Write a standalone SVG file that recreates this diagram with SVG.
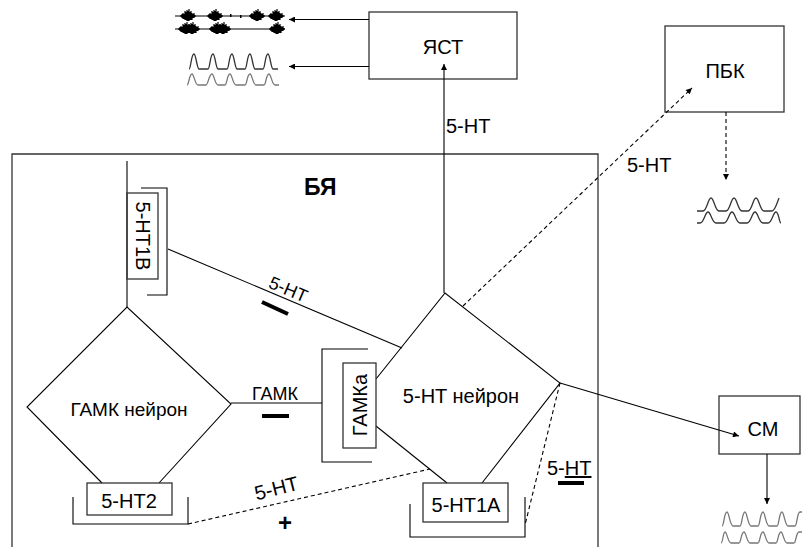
<svg xmlns="http://www.w3.org/2000/svg" xmlns:xlink="http://www.w3.org/1999/xlink" width="802" height="547" viewBox="0 0 802 547">
<defs>
<style>
.t{font-family:"Liberation Sans",Arial,sans-serif;font-size:20px;fill:#000}
.box{fill:none;stroke:#333;stroke-width:1.3}
.ln{fill:none;stroke:#000;stroke-width:1.1}
.ds{fill:none;stroke:#000;stroke-width:1.1;stroke-dasharray:4 3}
.bar{stroke:#000;stroke-width:4}
.wv{fill:none;stroke:#333;stroke-width:1.3}
.wg{fill:none;stroke:#777;stroke-width:1.3}
</style>
<marker id="arr" viewBox="0 0 10 10" refX="10" refY="5" markerWidth="8" markerHeight="6" markerUnits="userSpaceOnUse" orient="auto">
<path d="M0,0 L10,5 L0,10 z" fill="#000"/>
</marker>
<path id="blob" d="M-7,-1v2 M-6,-2v4 M-5,-3v6 M-4,-2v5 M-3,-5v9 M-2,-4v8 M-1,-6v11 M0,-5v10 M1,-7v12 M2,-4v8 M3,-5v9 M4,-3v7 M5,-2v4 M6,-3v5 M7,-1v2" stroke="#000" stroke-width="1.2" fill="none"/>
</defs>

<g id="BYa">
<polyline class="box" points="12,560 12,154 598,154 598,560"/>
<text class="t" x="304" y="195" style="font-weight:bold;font-size:23px">БЯ</text>
</g>

<g id="YaST">
<rect class="box" x="369" y="12" width="148" height="67"/>
<text class="t" x="443" y="54" text-anchor="middle">ЯСТ</text>
</g>

<g id="PBK">
<rect class="box" x="665" y="26" width="119" height="86"/>
<text class="t" x="725" y="78" text-anchor="middle">ПБК</text>
</g>

<g id="SM">
<rect class="box" x="719" y="396" width="81" height="58"/>
<text class="t" x="763" y="436" text-anchor="middle">СМ</text>
</g>

<g id="gaba-neuron">
<polyline class="ln" points="102,483 27,407 127,307 231,404 159,483"/>
<text class="t" x="129" y="416" text-anchor="middle" style="font-size:19px">ГАМК нейрон</text>
</g>

<g id="ht-neuron">
<polyline class="ln" points="376,379 445,293 560,383 482,483"/>
<line class="ln" x1="376" y1="426" x2="447" y2="483"/>
<text class="t" x="461" y="403" text-anchor="middle">5-HT нейрон</text>
</g>

<g id="r-5HT1B">
<line class="ln" x1="127" y1="161" x2="127" y2="307"/>
<rect class="box" x="127" y="193" width="31" height="86" fill="#fff"/>
<polyline class="ln" points="141,188 167,188 167,295 147,295"/>
<text class="t" transform="translate(143,236) rotate(90)" x="0" y="7" text-anchor="middle">5-HT1B</text>
</g>

<g id="r-GABAa">
<polyline class="ln" points="368,349 322,349 322,462 372,462"/>
<rect class="box" x="343" y="363" width="33" height="85"/>
<text class="t" transform="translate(360,405) rotate(-90)" x="0" y="7" text-anchor="middle">ГАМКа</text>
</g>

<g id="r-5HT2">
<rect class="box" x="87" y="483" width="85" height="32"/>
<polyline class="ln" points="73,497 73,524 188,524 188,497"/>
<text class="t" x="129" y="508" text-anchor="middle">5-HT2</text>
</g>

<g id="r-5HT1A">
<rect class="box" x="423" y="483" width="85" height="39"/>
<polyline class="ln" points="410,504 410,537 525,537 525,497"/>
<text class="t" x="466" y="512" text-anchor="middle">5-HT1A</text>
</g>

<g id="connectors">
<line class="ln" x1="369" y1="19.5" x2="289" y2="19.5" marker-end="url(#arr)"/>
<line class="ln" x1="369" y1="66.5" x2="289" y2="66.5" marker-end="url(#arr)"/>
<line class="ln" x1="444" y1="293" x2="444" y2="64" marker-end="url(#arr)"/>
<text class="t" x="446" y="133">5-HT</text>
<line class="ds" x1="463" y1="306" x2="692" y2="88" marker-end="url(#arr)"/>
<text class="t" x="627" y="172">5-HT</text>
<line class="ds" x1="726" y1="112" x2="726" y2="180" marker-end="url(#arr)"/>
<line class="ln" x1="560" y1="383" x2="739" y2="436" marker-end="url(#arr)"/>
<line class="ln" x1="767" y1="454" x2="767" y2="504" marker-end="url(#arr)"/>
<line class="ln" x1="168" y1="249" x2="402" y2="348"/>
<text class="t" transform="translate(286,295) rotate(23)" x="0" y="0" text-anchor="middle" style="font-size:18px">5-HT</text>
<line class="bar" x1="262" y1="302" x2="288" y2="314"/>
<line class="ln" x1="231" y1="403" x2="322" y2="403"/>
<text class="t" x="275" y="400" text-anchor="middle" style="font-size:18px">ГАМК</text>
<line class="bar" x1="262" y1="416" x2="289" y2="416"/>
<line class="ds" x1="188" y1="524" x2="430" y2="469"/>
<text class="t" transform="translate(278,495) rotate(-14)" x="0" y="0" text-anchor="middle">5-HT</text>
<text class="t" x="285" y="531" text-anchor="middle" style="font-weight:bold;font-size:24px">+</text>
<line class="ds" x1="560" y1="383" x2="525" y2="525"/>
<text class="t" x="547" y="475">5-<tspan style="text-decoration:underline">HT</tspan></text>
<line class="bar" x1="558" y1="483" x2="584" y2="483"/>
</g>

<g id="waves-YaST">
<line class="ln" x1="175" y1="16" x2="285" y2="16"/>
<use xlink:href="#blob" x="188" y="16"/>
<use xlink:href="#blob" x="215" y="16"/>
<use xlink:href="#blob" x="257" y="16"/>
<use xlink:href="#blob" x="276" y="16"/>
<rect x="230" y="14" width="1.5" height="3" fill="#000"/>
<rect x="240" y="15" width="1.5" height="3" fill="#000"/>
<line class="ln" x1="175" y1="29" x2="285" y2="29"/>
<use xlink:href="#blob" x="186" y="29"/>
<use xlink:href="#blob" x="192" y="29"/>
<use xlink:href="#blob" x="217" y="29"/>
<use xlink:href="#blob" x="223" y="29"/>
<use xlink:href="#blob" x="277" y="29"/>
<path class="wv" d="M189,69 C191,69 191,54 194,54 C196,54 197,69 199,69 L208,69 C210,69 210,54 213,54 C215,54 216,69 218,69 L227,69 C229,69 229,54 232,54 C234,54 235,69 237,69 L245,69 C247,69 247,54 250,54 C252,54 253,69 255,69 L263,69 C265,69 265,54 268,54 C270,54 271,69 273,69 L278,69"/>
<path class="wg" d="M187,85 C189,85 189,74 192,74 C194,74 195,85 198,85 L206,85 C208,85 209,74 212,74 C214,74 215,85 218,85 L225,85 C227,85 227,74 230,74 C232,74 233,85 236,85 L245,85 C247,85 247,74 250,74 C252,74 253,85 256,85 L264,85 C266,85 266,74 269,74 C271,74 272,85 275,85 L279,85"/>
</g>

<g id="waves-PBK">
<path class="wv" d="M697,211 L703,211 C707,211 708,198 711,198 C714,198 715,211 719,211 L726,211 C730,211 731,198 734,198 C737,198 738,211 742,211 L748,211 C752,211 753,198 756,198 C759,198 760,211 764,211 L772,211 C775,211 777,203 779,198"/>
<path class="wv" d="M697,223 L700,223 C704,223 705,212 708,212 C711,212 712,223 716,223 L724,223 C728,223 729,212 732,212 C735,212 736,223 740,223 L747,223 C751,223 752,212 755,212 C758,212 759,223 763,223 L768,223 C772,223 773,212 776,212 C779,212 779,223 781,223"/>
</g>

<g id="waves-SM">
<path class="wg" d="M722,526 C724,526 724,512 727,512 C729,512 730,526 733,526 L740,526 C742,526 742,512 745,512 C747,512 748,526 751,526 L758,526 C760,526 760,512 763,512 C765,512 766,526 769,526 L777,526 C779,526 779,512 782,512 C784,512 785,526 788,526 L795,526 C797,526 797,512 800,512 L802,512"/>
<path class="wg" d="M721,543 C723,543 723,532 725,532 C727,532 728,543 731,543 L739,543 C741,543 741,532 744,532 C746,532 747,543 750,543 L758,543 C760,543 760,532 763,532 C765,532 766,543 769,543 L776,543 C778,543 778,532 781,532 C783,532 784,543 787,543 L794,543 C796,543 796,532 799,532 L802,532"/>
</g>
</svg>
